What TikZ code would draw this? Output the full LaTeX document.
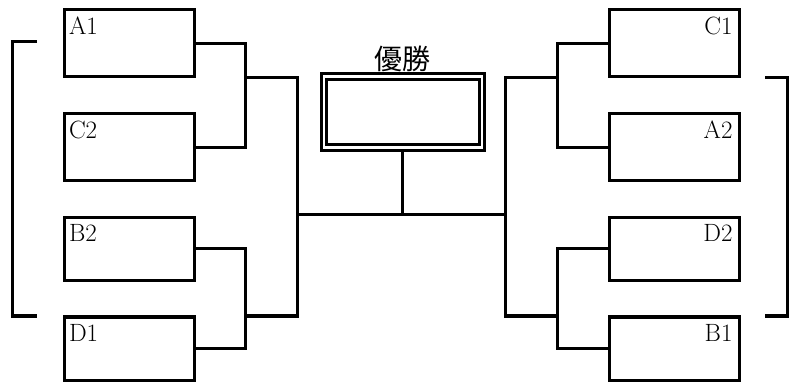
\documentclass[tikz,border=0pt]{standalone}
\usepackage{fontspec}
\newfontfamily\cjk{Noto Sans CJK JP}
\begin{document}
\begin{tikzpicture}[x=1pt,y=-1pt,line width=3pt,
  team/.style={draw,rectangle,minimum width=130pt,inner sep=0pt},
  tall/.style={team,minimum height=67pt},
  short/.style={team,minimum height=63pt},
  labl/.style={font=\fontsize{25}{25}\selectfont,inner sep=0pt,anchor=base west,xshift=5pt,yshift=-26pt},
  labr/.style={font=\fontsize{25}{25}\selectfont,inner sep=0pt,anchor=base east,xshift=-7pt,yshift=-26pt},
  wire/.style={line width=3pt}]
\useasboundingbox (0,0) rectangle (793,382);
% left teams
\node[tall,label={[labl]north west:A1}] (A1) at (129,43.5) {};
\node[tall,label={[labl]north west:C2}] (C2) at (129,147.5) {};
\node[short,label={[labl]north west:B2}] (B2) at (129,249) {};
\node[short,label={[labl]north west:D1}] (D1) at (129,348.5) {};
% right teams
\node[tall,label={[labr]north east:C1}] (C1) at (674.5,43.5) {};
\node[tall,label={[labr]north east:A2}] (A2) at (674.5,147.5) {};
\node[short,label={[labr]north east:D2}] (D2) at (674.5,249) {};
\node[short,label={[labr]north east:B1}] (B1) at (674.5,348.5) {};
% champion box
\node[draw,rectangle,minimum width=163pt,minimum height=77pt,inner sep=0pt] (W) at (402.5,112.5) {};
\node[draw,rectangle,minimum width=153pt,minimum height=65pt,inner sep=0pt] (Wi) at (402.5,112.5) {};
\node[font=\cjk\fontsize{28}{28}\selectfont,inner sep=0pt] (WL) at (402,58.5) {優勝};
% coordinates
\coordinate (jl1) at (245,77.5);
\coordinate (jl2) at (245,316);
\coordinate (jr1) at (557,77.5);
\coordinate (jr2) at (557,316);
\coordinate (ml) at (297,215);
\coordinate (mr) at (505,215);
% left connectors
\draw[wire] (A1.east) -| (jl1) |- (C2.east);
\draw[wire] (B2.east) -| (jl2) |- (D1.east);
\draw[wire] (jl1) -| (ml) |- (jl2);
% right connectors
\draw[wire] (C1.west) -| (jr1) |- (A2.west);
\draw[wire] (D2.west) -| (jr2) |- (B1.west);
\draw[wire] (jr1) -| (mr) |- (jr2);
% center
\draw[wire] (ml) -- (mr);
\draw[wire] (W.south) -- (W.south |- ml);
% brackets
\coordinate (bl1) at (37,42);
\coordinate (bl2) at (37,316);
\draw[wire] (bl1) -- (12,42) -- (12,316) -- (bl2);
\coordinate (br1) at (765,77.5);
\coordinate (br2) at (765,316);
\draw[wire] (br1) -- (787,77.5) -- (787,316) -- (br2);
\end{tikzpicture}
\end{document}
